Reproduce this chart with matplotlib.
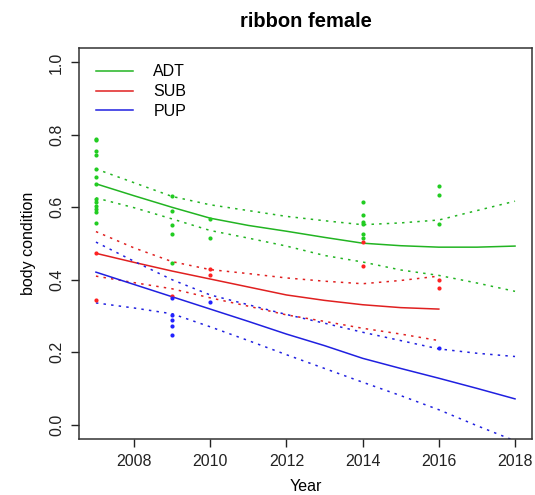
import matplotlib
matplotlib.use("Agg")
import matplotlib.pyplot as plt

plt.rcParams['font.family'] = ['Liberation Sans', 'DejaVu Sans']

# fitted curves (mean and ribbon bounds) per class
years = [2007, 2008, 2009, 2010, 2011, 2012, 2013, 2014, 2015, 2016, 2017, 2018]
sub_years = years[:10]

adt_fit = [0.665, 0.632, 0.600, 0.570, 0.550, 0.534, 0.517, 0.501, 0.494, 0.490, 0.490, 0.493]
adt_hi = [0.706, 0.668, 0.630, 0.607, 0.591, 0.575, 0.563, 0.552, 0.557, 0.565, 0.591, 0.617]
adt_lo = [0.626, 0.599, 0.568, 0.536, 0.515, 0.493, 0.467, 0.449, 0.427, 0.412, 0.391, 0.368]

sub_fit = [0.473, 0.448, 0.424, 0.402, 0.380, 0.358, 0.343, 0.331, 0.323, 0.319]
sub_hi = [0.533, 0.488, 0.450, 0.428, 0.417, 0.405, 0.396, 0.389, 0.398, 0.410]
sub_lo = [0.410, 0.392, 0.375, 0.350, 0.327, 0.303, 0.285, 0.266, 0.250, 0.232]

pup_fit = [0.421, 0.387, 0.353, 0.319, 0.285, 0.250, 0.218, 0.183, 0.155, 0.128, 0.100, 0.071]
pup_hi = [0.504, 0.451, 0.400, 0.358, 0.331, 0.304, 0.280, 0.255, 0.232, 0.209, 0.197, 0.188]
pup_lo = [0.336, 0.322, 0.306, 0.270, 0.232, 0.193, 0.155, 0.117, 0.080, 0.041, -0.003, -0.045]

# observed values
adt_x = [2007] * 13 + [2009] * 5 + [2010] * 2 + [2014] * 6 + [2016] * 3
adt_y = [0.790, 0.785, 0.755, 0.745, 0.706, 0.683, 0.665, 0.623, 0.615, 0.605, 0.595, 0.587, 0.556,
         0.630, 0.590, 0.552, 0.527, 0.446,
         0.568, 0.515,
         0.614, 0.579, 0.559, 0.554, 0.527, 0.516,
         0.660, 0.635, 0.554]
sub_x = [2007, 2007, 2009, 2010, 2010, 2014, 2014, 2016, 2016]
sub_y = [0.473, 0.345, 0.356, 0.430, 0.412, 0.504, 0.437, 0.398, 0.377]
pup_x = [2009, 2009, 2009, 2009, 2009, 2010, 2016]
pup_y = [0.349, 0.303, 0.290, 0.273, 0.248, 0.338, 0.211]

green = "#22b422"
red = "#e02020"
blue = "#2020e0"
dots = (0, (1.6, 3.4))

fig = plt.figure(figsize=(5.35, 4.95), dpi=100)
ax = fig.add_axes([0.148, 0.113, 0.846, 0.790])

ax.scatter(adt_x, adt_y, s=9, color="#22cc22", zorder=3, linewidths=0)
ax.scatter(sub_x, sub_y, s=9, color="#ff2222", zorder=3, linewidths=0)
ax.scatter(pup_x, pup_y, s=9, color="#2222ff", zorder=3, linewidths=0)

ax.plot(years, adt_fit, color=green, lw=1.1, label="ADT")
ax.plot(years, adt_hi, color=green, lw=1.1, ls=dots)
ax.plot(years, adt_lo, color=green, lw=1.1, ls=dots)

ax.plot(sub_years, sub_fit, color=red, lw=1.1, label="SUB")
ax.plot(sub_years, sub_hi, color=red, lw=1.1, ls=dots)
ax.plot(sub_years, sub_lo, color=red, lw=1.1, ls=dots)

ax.plot(years, pup_fit, color=blue, lw=1.1, label="PUP")
ax.plot(years, pup_hi, color=blue, lw=1.1, ls=dots)
ax.plot(years, pup_lo, color=blue, lw=1.1, ls=dots)

ax.set_xlim(2006.56, 2018.44)
ax.set_ylim(-0.04, 1.04)
ax.set_xticks([2008, 2010, 2012, 2014, 2016, 2018])
ax.set_yticks([0.0, 0.2, 0.4, 0.6, 0.8, 1.0])
ax.set_yticklabels(["0.0", "0.2", "0.4", "0.6", "0.8", "1.0"], rotation=90, va="center")
ax.tick_params(direction="out", length=6, width=1, labelsize=11.5, colors="#222222", pad=5)
for sp in ax.spines.values():
    sp.set_linewidth(1.1)
    sp.set_color("#333333")

ax.set_xlabel("Year", fontsize=11.5, labelpad=7)
ax.set_ylabel("body condition", fontsize=11.5, labelpad=9)
ax.set_title("ribbon female", fontsize=14.5, fontweight="bold", pad=15)

ax.legend(loc="upper left", frameon=False, fontsize=11.5, handlelength=2.3,
          handletextpad=1.3, labelspacing=0.3, borderaxespad=0.5,
          bbox_to_anchor=(0.005, 0.995))

fig.savefig("out.png", dpi=100)
